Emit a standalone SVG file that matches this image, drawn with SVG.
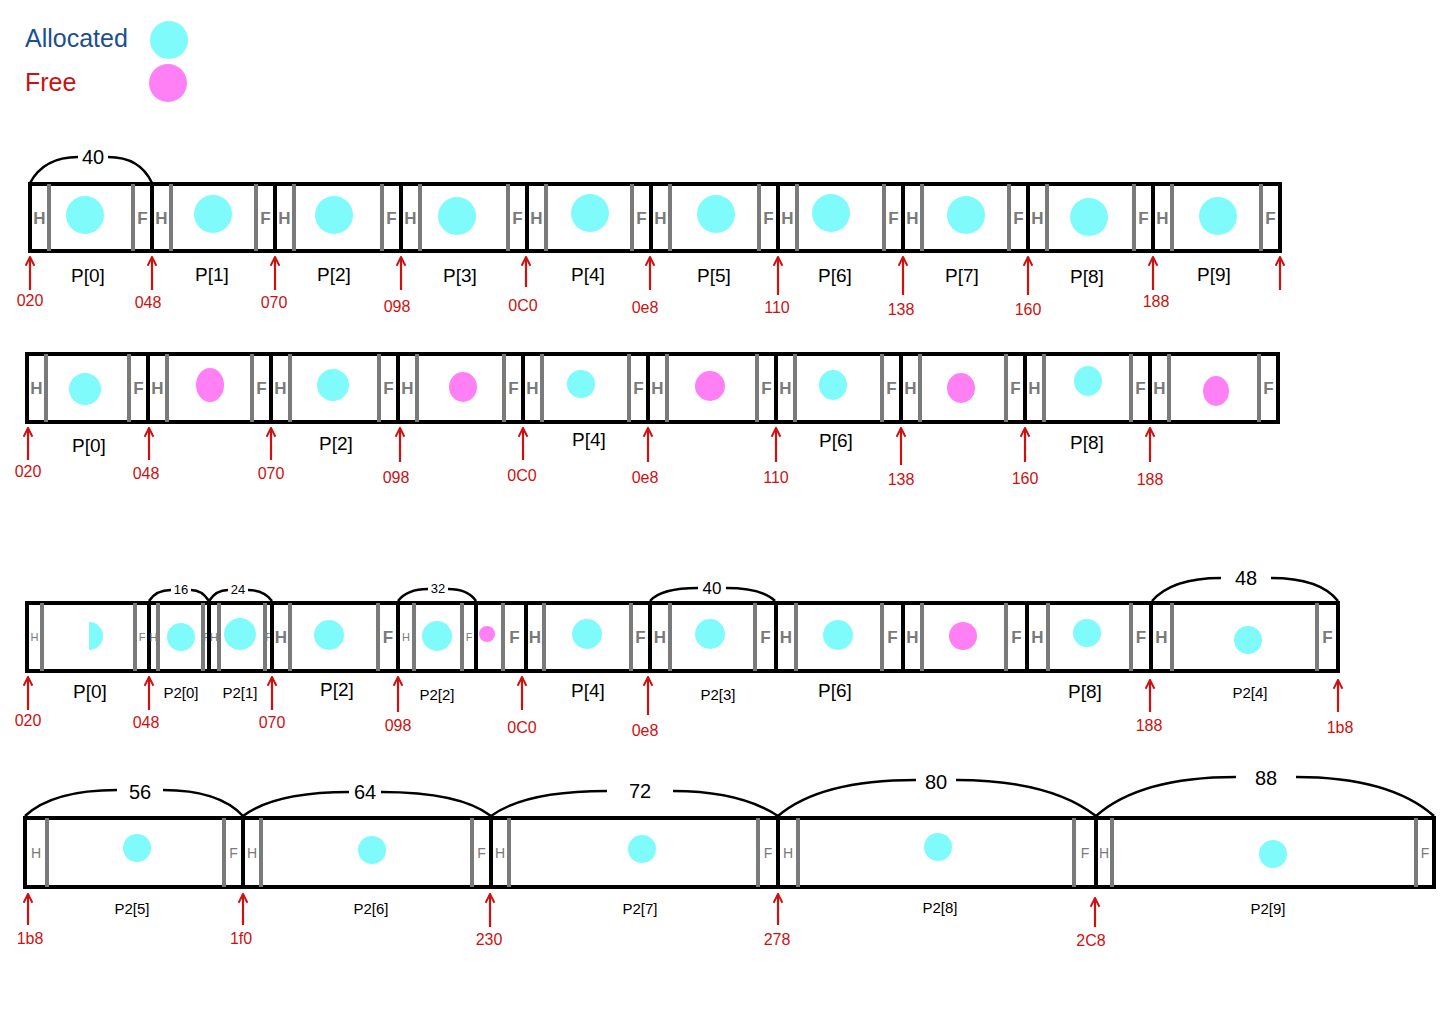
<svg xmlns="http://www.w3.org/2000/svg" width="1440" height="1018" viewBox="0 0 1440 1018">
<style>
.bg{fill:#fff}
.blk{fill:#fff;stroke:#000;stroke-width:4}
.g{stroke:#7a7a7a;stroke-width:4}
.hf{font-family:"Liberation Sans",Arial,sans-serif;font-size:17px;font-weight:bold;fill:#7a7a7a;text-anchor:middle}
.hfs{font-family:"Liberation Sans",Arial,sans-serif;font-size:11px;fill:#7a7a7a;text-anchor:middle}
.hfm{font-family:"Liberation Sans",Arial,sans-serif;font-size:14px;fill:#7a7a7a;text-anchor:middle}
.alloc{fill:#80fbfb}
.free{fill:#ff80f4}
.lbl{font-family:"Liberation Sans",Arial,sans-serif;font-size:19px;fill:#000;text-anchor:middle}
.lbs{font-family:"Liberation Sans",Arial,sans-serif;font-size:15px;fill:#000;text-anchor:middle}
.hex{font-family:"Liberation Sans",Arial,sans-serif;font-size:16px;fill:#cc1111;text-anchor:middle}
.arr{stroke:#cc1111;stroke-width:2.2;fill:none}
.brace{fill:none;stroke:#000;stroke-width:2.5}
.bt{font-family:"Liberation Sans",Arial,sans-serif;font-size:20px;fill:#000;text-anchor:middle}
.bts{font-family:"Liberation Sans",Arial,sans-serif;font-size:13px;fill:#000;text-anchor:middle}
.leg{font-family:"Liberation Sans",Arial,sans-serif;font-size:25px}
</style>
<defs>
<marker id="ah" viewBox="0 0 10 10" refX="9" refY="5" markerWidth="11" markerHeight="11" markerUnits="userSpaceOnUse" orient="auto">
<path d="M1,1 L9,5 L1,9" fill="none" stroke="#cc1111" stroke-width="1.8"/>
</marker>
</defs>
<rect class="bg" x="0" y="0" width="1440" height="1018"/>

<g id="legend">
<text class="leg" x="25" y="47" fill="#1b4f8f">Allocated</text>
<circle class="alloc" cx="169" cy="40" r="19"/>
<text class="leg" x="25" y="91" fill="#cc1111">Free</text>
<circle class="free" cx="168" cy="83" r="19"/>
</g>

<!-- Row 1 -->
<g id="row1">
<g id="r1-p0"><rect class="blk" x="30" y="184" width="122" height="67"/><line class="g" x1="49" y1="184" x2="49" y2="251"/><line class="g" x1="133" y1="184" x2="133" y2="251"/><text class="hf" x="39.5" y="224">H</text><text class="hf" x="142.5" y="224">F</text><circle class="alloc" cx="85" cy="215" r="19"/><text class="lbl" x="88" y="282">P[0]</text></g>
<g id="r1-p1"><rect class="blk" x="152" y="184" width="123" height="67"/><line class="g" x1="171" y1="184" x2="171" y2="251"/><line class="g" x1="256" y1="184" x2="256" y2="251"/><text class="hf" x="161.5" y="224">H</text><text class="hf" x="265.5" y="224">F</text><circle class="alloc" cx="213" cy="214" r="19"/><text class="lbl" x="212" y="281">P[1]</text></g>
<g id="r1-p2"><rect class="blk" x="275" y="184" width="126" height="67"/><line class="g" x1="294" y1="184" x2="294" y2="251"/><line class="g" x1="382" y1="184" x2="382" y2="251"/><text class="hf" x="284.5" y="224">H</text><text class="hf" x="391.5" y="224">F</text><circle class="alloc" cx="334" cy="215" r="19"/><text class="lbl" x="334" y="281">P[2]</text></g>
<g id="r1-p3"><rect class="blk" x="401" y="184" width="126" height="67"/><line class="g" x1="420" y1="184" x2="420" y2="251"/><line class="g" x1="508" y1="184" x2="508" y2="251"/><text class="hf" x="410.5" y="224">H</text><text class="hf" x="517.5" y="224">F</text><circle class="alloc" cx="457" cy="216" r="19"/><text class="lbl" x="460" y="282">P[3]</text></g>
<g id="r1-p4"><rect class="blk" x="527" y="184" width="124" height="67"/><line class="g" x1="546" y1="184" x2="546" y2="251"/><line class="g" x1="632" y1="184" x2="632" y2="251"/><text class="hf" x="536.5" y="224">H</text><text class="hf" x="641.5" y="224">F</text><circle class="alloc" cx="590" cy="213" r="19"/><text class="lbl" x="588" y="281">P[4]</text></g>
<g id="r1-p5"><rect class="blk" x="651" y="184" width="127" height="67"/><line class="g" x1="670" y1="184" x2="670" y2="251"/><line class="g" x1="759" y1="184" x2="759" y2="251"/><text class="hf" x="660.5" y="224">H</text><text class="hf" x="768.5" y="224">F</text><circle class="alloc" cx="716" cy="214" r="19"/><text class="lbl" x="714" y="282">P[5]</text></g>
<g id="r1-p6"><rect class="blk" x="778" y="184" width="125" height="67"/><line class="g" x1="797" y1="184" x2="797" y2="251"/><line class="g" x1="884" y1="184" x2="884" y2="251"/><text class="hf" x="787.5" y="224">H</text><text class="hf" x="893.5" y="224">F</text><circle class="alloc" cx="831" cy="213" r="19"/><text class="lbl" x="835" y="282">P[6]</text></g>
<g id="r1-p7"><rect class="blk" x="903" y="184" width="125" height="67"/><line class="g" x1="922" y1="184" x2="922" y2="251"/><line class="g" x1="1009" y1="184" x2="1009" y2="251"/><text class="hf" x="912.5" y="224">H</text><text class="hf" x="1018.5" y="224">F</text><circle class="alloc" cx="966" cy="215" r="19"/><text class="lbl" x="962" y="282">P[7]</text></g>
<g id="r1-p8"><rect class="blk" x="1028" y="184" width="125" height="67"/><line class="g" x1="1047" y1="184" x2="1047" y2="251"/><line class="g" x1="1134" y1="184" x2="1134" y2="251"/><text class="hf" x="1037.5" y="224">H</text><text class="hf" x="1143.5" y="224">F</text><circle class="alloc" cx="1089" cy="217" r="19"/><text class="lbl" x="1087" y="283">P[8]</text></g>
<g id="r1-p9"><rect class="blk" x="1153" y="184" width="127" height="67"/><line class="g" x1="1172" y1="184" x2="1172" y2="251"/><line class="g" x1="1261" y1="184" x2="1261" y2="251"/><text class="hf" x="1162.5" y="224">H</text><text class="hf" x="1270.5" y="224">F</text><circle class="alloc" cx="1218" cy="216" r="19"/><text class="lbl" x="1214" y="281">P[9]</text></g>
</g>

<!-- Row 2 -->
<g id="row2">
<g id="r2-p0"><rect class="blk" x="27" y="354" width="121" height="68"/><line class="g" x1="46" y1="354" x2="46" y2="422"/><line class="g" x1="129" y1="354" x2="129" y2="422"/><text class="hf" x="36.5" y="394">H</text><text class="hf" x="138.5" y="394">F</text><circle class="alloc" cx="85" cy="389" r="16"/><text class="lbl" x="89" y="452">P[0]</text></g>
<g id="r2-b1"><rect class="blk" x="148" y="354" width="123" height="68"/><line class="g" x1="167" y1="354" x2="167" y2="422"/><line class="g" x1="252" y1="354" x2="252" y2="422"/><text class="hf" x="157.5" y="394">H</text><text class="hf" x="261.5" y="394">F</text><ellipse class="free" cx="210" cy="385" rx="14" ry="17"/></g>
<g id="r2-p2"><rect class="blk" x="271" y="354" width="127" height="68"/><line class="g" x1="290" y1="354" x2="290" y2="422"/><line class="g" x1="379" y1="354" x2="379" y2="422"/><text class="hf" x="280.5" y="394">H</text><text class="hf" x="388.5" y="394">F</text><circle class="alloc" cx="333" cy="385" r="16"/><text class="lbl" x="336" y="450">P[2]</text></g>
<g id="r2-b3"><rect class="blk" x="398" y="354" width="125" height="68"/><line class="g" x1="417" y1="354" x2="417" y2="422"/><line class="g" x1="504" y1="354" x2="504" y2="422"/><text class="hf" x="407.5" y="394">H</text><text class="hf" x="513.5" y="394">F</text><ellipse class="free" cx="463" cy="387" rx="14" ry="15"/></g>
<g id="r2-p4"><rect class="blk" x="523" y="354" width="125" height="68"/><line class="g" x1="542" y1="354" x2="542" y2="422"/><line class="g" x1="629" y1="354" x2="629" y2="422"/><text class="hf" x="532.5" y="394">H</text><text class="hf" x="638.5" y="394">F</text><circle class="alloc" cx="581" cy="384" r="14"/><text class="lbl" x="589" y="446">P[4]</text></g>
<g id="r2-b5"><rect class="blk" x="648" y="354" width="128" height="68"/><line class="g" x1="667" y1="354" x2="667" y2="422"/><line class="g" x1="757" y1="354" x2="757" y2="422"/><text class="hf" x="657.5" y="394">H</text><text class="hf" x="766.5" y="394">F</text><ellipse class="free" cx="710" cy="386" rx="15" ry="15"/></g>
<g id="r2-p6"><rect class="blk" x="776" y="354" width="125" height="68"/><line class="g" x1="795" y1="354" x2="795" y2="422"/><line class="g" x1="882" y1="354" x2="882" y2="422"/><text class="hf" x="785.5" y="394">H</text><text class="hf" x="891.5" y="394">F</text><ellipse class="alloc" cx="833" cy="385" rx="14" ry="15"/><text class="lbl" x="836" y="447">P[6]</text></g>
<g id="r2-b7"><rect class="blk" x="901" y="354" width="124" height="68"/><line class="g" x1="920" y1="354" x2="920" y2="422"/><line class="g" x1="1006" y1="354" x2="1006" y2="422"/><text class="hf" x="910.5" y="394">H</text><text class="hf" x="1015.5" y="394">F</text><ellipse class="free" cx="961" cy="388" rx="14" ry="15"/></g>
<g id="r2-p8"><rect class="blk" x="1025" y="354" width="125" height="68"/><line class="g" x1="1044" y1="354" x2="1044" y2="422"/><line class="g" x1="1131" y1="354" x2="1131" y2="422"/><text class="hf" x="1034.5" y="394">H</text><text class="hf" x="1140.5" y="394">F</text><ellipse class="alloc" cx="1088" cy="381" rx="14" ry="15"/><text class="lbl" x="1087" y="449">P[8]</text></g>
<g id="r2-b9"><rect class="blk" x="1150" y="354" width="128" height="68"/><line class="g" x1="1169" y1="354" x2="1169" y2="422"/><line class="g" x1="1259" y1="354" x2="1259" y2="422"/><text class="hf" x="1159.5" y="394">H</text><text class="hf" x="1268.5" y="394">F</text><ellipse class="free" cx="1216" cy="391" rx="13" ry="15"/></g>
</g>

<!-- Row 3 -->
<g id="row3">
<g id="r3-p0"><rect class="blk" x="27" y="603" width="122" height="68"/><line class="g" x1="42" y1="603" x2="42" y2="671"/><line class="g" x1="135" y1="603" x2="135" y2="671"/><text class="hfs" x="34.5" y="641">H</text><text class="hfs" x="142" y="641">F</text><path class="alloc" d="M89,622 A14,14 0 0 1 89,650 Z"/><text class="lbl" x="90" y="698">P[0]</text></g>
<g id="r3-p2-0"><rect class="blk" x="149" y="603" width="60" height="68"/><line class="g" x1="158" y1="603" x2="158" y2="671"/><line class="g" x1="203" y1="603" x2="203" y2="671"/><text class="hfs" x="153.5" y="641">H</text><text class="hfs" x="206.5" y="641">F</text><circle class="alloc" cx="181" cy="637" r="14"/><text class="lbs" x="181" y="698">P2[0]</text></g>
<g id="r3-p2-1"><rect class="blk" x="209" y="603" width="63" height="68"/><line class="g" x1="219" y1="603" x2="219" y2="671"/><line class="g" x1="265" y1="603" x2="265" y2="671"/><text class="hfs" x="214" y="641">H</text><text class="hfs" x="268.5" y="641">F</text><circle class="alloc" cx="240" cy="634" r="16"/><text class="lbs" x="240" y="698">P2[1]</text></g>
<g id="r3-p2"><rect class="blk" x="272" y="603" width="126" height="68"/><line class="g" x1="290" y1="603" x2="290" y2="671"/><line class="g" x1="378" y1="603" x2="378" y2="671"/><text class="hf" x="281" y="643">H</text><text class="hf" x="388" y="643">F</text><circle class="alloc" cx="329" cy="635" r="15"/><text class="lbl" x="337" y="696">P[2]</text></g>
<g id="r3-p2-2"><rect class="blk" x="398" y="603" width="78" height="68"/><line class="g" x1="414" y1="603" x2="414" y2="671"/><line class="g" x1="462" y1="603" x2="462" y2="671"/><text class="hfs" x="406" y="641">H</text><text class="hfs" x="469" y="641">F</text><circle class="alloc" cx="437" cy="636" r="15"/><text class="lbs" x="437" y="700">P2[2]</text></g>
<g id="r3-rest"><rect class="blk" x="476" y="603" width="50" height="68"/><line class="g" x1="503" y1="603" x2="503" y2="671"/><text class="hf" x="514.5" y="643">F</text><circle class="free" cx="487" cy="634" r="8"/></g>
<g id="r3-p4"><rect class="blk" x="526" y="603" width="124" height="68"/><line class="g" x1="544" y1="603" x2="544" y2="671"/><line class="g" x1="631" y1="603" x2="631" y2="671"/><text class="hf" x="535" y="643">H</text><text class="hf" x="640.5" y="643">F</text><circle class="alloc" cx="587" cy="634" r="15"/><text class="lbl" x="588" y="697">P[4]</text></g>
<g id="r3-p2-3"><rect class="blk" x="650" y="603" width="126" height="68"/><line class="g" x1="670" y1="603" x2="670" y2="671"/><line class="g" x1="755" y1="603" x2="755" y2="671"/><text class="hf" x="660" y="643">H</text><text class="hf" x="765.5" y="643">F</text><circle class="alloc" cx="710" cy="634" r="15"/><text class="lbs" x="718" y="700">P2[3]</text></g>
<g id="r3-p6"><rect class="blk" x="776" y="603" width="127" height="68"/><line class="g" x1="796" y1="603" x2="796" y2="671"/><line class="g" x1="882" y1="603" x2="882" y2="671"/><text class="hf" x="786" y="643">H</text><text class="hf" x="892.5" y="643">F</text><circle class="alloc" cx="838" cy="635" r="15"/><text class="lbl" x="835" y="697">P[6]</text></g>
<g id="r3-b9"><rect class="blk" x="903" y="603" width="124" height="68"/><line class="g" x1="922" y1="603" x2="922" y2="671"/><line class="g" x1="1006" y1="603" x2="1006" y2="671"/><text class="hf" x="912.5" y="643">H</text><text class="hf" x="1016.5" y="643">F</text><circle class="free" cx="963" cy="636" r="14"/></g>
<g id="r3-p8"><rect class="blk" x="1027" y="603" width="124" height="68"/><line class="g" x1="1048" y1="603" x2="1048" y2="671"/><line class="g" x1="1131" y1="603" x2="1131" y2="671"/><text class="hf" x="1037.5" y="643">H</text><text class="hf" x="1141" y="643">F</text><circle class="alloc" cx="1087" cy="633" r="14"/><text class="lbl" x="1085" y="698">P[8]</text></g>
<g id="r3-p2-4"><rect class="blk" x="1151" y="603" width="187" height="68"/><line class="g" x1="1172" y1="603" x2="1172" y2="671"/><line class="g" x1="1317" y1="603" x2="1317" y2="671"/><text class="hf" x="1161.5" y="643">H</text><text class="hf" x="1327.5" y="643">F</text><circle class="alloc" cx="1248" cy="640" r="14"/><text class="lbs" x="1250" y="698">P2[4]</text></g>
</g>

<!-- Row 4 -->
<g id="row4">
<g id="r4-p2-5"><rect class="blk" x="25" y="818" width="218" height="69"/><line class="g" x1="47" y1="818" x2="47" y2="887"/><line class="g" x1="224" y1="818" x2="224" y2="887"/><text class="hfm" x="36" y="858">H</text><text class="hfm" x="233.5" y="858">F</text><circle class="alloc" cx="137" cy="848" r="14"/><text class="lbs" x="132" y="914">P2[5]</text></g>
<g id="r4-p2-6"><rect class="blk" x="243" y="818" width="248" height="69"/><line class="g" x1="261" y1="818" x2="261" y2="887"/><line class="g" x1="472" y1="818" x2="472" y2="887"/><text class="hfm" x="252" y="858">H</text><text class="hfm" x="481.5" y="858">F</text><circle class="alloc" cx="372" cy="850" r="14"/><text class="lbs" x="371" y="914">P2[6]</text></g>
<g id="r4-p2-7"><rect class="blk" x="491" y="818" width="287" height="69"/><line class="g" x1="509" y1="818" x2="509" y2="887"/><line class="g" x1="758" y1="818" x2="758" y2="887"/><text class="hfm" x="500" y="858">H</text><text class="hfm" x="768" y="858">F</text><circle class="alloc" cx="642" cy="849" r="14"/><text class="lbs" x="640" y="914">P2[7]</text></g>
<g id="r4-p2-8"><rect class="blk" x="778" y="818" width="318" height="69"/><line class="g" x1="798" y1="818" x2="798" y2="887"/><line class="g" x1="1074" y1="818" x2="1074" y2="887"/><text class="hfm" x="788" y="858">H</text><text class="hfm" x="1085" y="858">F</text><circle class="alloc" cx="938" cy="847" r="14"/><text class="lbs" x="940" y="913">P2[8]</text></g>
<g id="r4-p2-9"><rect class="blk" x="1096" y="818" width="338" height="69"/><line class="g" x1="1112" y1="818" x2="1112" y2="887"/><line class="g" x1="1416" y1="818" x2="1416" y2="887"/><text class="hfm" x="1104" y="858">H</text><text class="hfm" x="1425" y="858">F</text><circle class="alloc" cx="1273" cy="854" r="14"/><text class="lbs" x="1268" y="914">P2[9]</text></g>
</g>

<g id="connectors">
<path class="brace" d="M30,183 Q44,157 78,157 M108,157 Q140,157 152,183"/>
<text class="bt" x="93" y="164">40</text>
<path class="brace" d="M149,601 Q156,590 171,590 M191,590 Q202,590 209,601"/>
<text class="bts" x="181" y="594">16</text>
<path class="brace" d="M209,601 Q216,590 228,590 M248,590 Q264,590 272,601"/>
<text class="bts" x="238" y="594">24</text>
<path class="brace" d="M398,601 Q407,589 428,589 M448,589 Q468,589 476,601"/>
<text class="bts" x="438" y="593">32</text>
<path class="brace" d="M650,601 Q661,588 698,588 M726,588 Q762,588 775,601"/>
<text class="bt" x="712" y="594" style="font-size:17px">40</text>
<path class="brace" d="M1152,601 Q1172,578 1221,578 M1271,578 Q1320,578 1338,601"/>
<text class="bt" x="1246" y="585">48</text>
<path class="brace" d="M25,816 Q53,790 117,790 M163,790 Q219,790 243,816"/>
<text class="bt" x="140" y="799">56</text>
<path class="brace" d="M243,816 Q275,792 349,792 M381,792 Q460,792 491,816"/>
<text class="bt" x="365" y="799">64</text>
<path class="brace" d="M491,816 Q525,791 607,791 M673,791 Q740,791 778,816"/>
<text class="bt" x="640" y="798">72</text>
<path class="brace" d="M778,816 Q820,780 916,780 M956,780 Q1050,780 1096,816"/>
<text class="bt" x="936" y="789">80</text>
<path class="brace" d="M1096,816 Q1140,777 1236,777 M1296,777 Q1390,777 1434,816"/>
<text class="bt" x="1266" y="785">88</text>

<path class="arr" marker-end="url(#ah)" d="M30,290 V257"/>
<path class="arr" marker-end="url(#ah)" d="M152,290 V257"/>
<path class="arr" marker-end="url(#ah)" d="M275,290 V257"/>
<path class="arr" marker-end="url(#ah)" d="M401,290 V257"/>
<path class="arr" marker-end="url(#ah)" d="M526,287 V257"/>
<path class="arr" marker-end="url(#ah)" d="M650,290 V257"/>
<path class="arr" marker-end="url(#ah)" d="M778,295 V257"/>
<path class="arr" marker-end="url(#ah)" d="M903,295 V257"/>
<path class="arr" marker-end="url(#ah)" d="M1028,295 V257"/>
<path class="arr" marker-end="url(#ah)" d="M1153,290 V257"/>
<path class="arr" marker-end="url(#ah)" d="M1280,290 V257"/>

<path class="arr" marker-end="url(#ah)" d="M28,460 V428"/>
<path class="arr" marker-end="url(#ah)" d="M149,460 V428"/>
<path class="arr" marker-end="url(#ah)" d="M271,460 V428"/>
<path class="arr" marker-end="url(#ah)" d="M400,462 V428"/>
<path class="arr" marker-end="url(#ah)" d="M523,460 V428"/>
<path class="arr" marker-end="url(#ah)" d="M648,462 V428"/>
<path class="arr" marker-end="url(#ah)" d="M776,462 V428"/>
<path class="arr" marker-end="url(#ah)" d="M901,465 V428"/>
<path class="arr" marker-end="url(#ah)" d="M1025,462 V428"/>
<path class="arr" marker-end="url(#ah)" d="M1150,462 V428"/>

<path class="arr" marker-end="url(#ah)" d="M28,710 V677"/>
<path class="arr" marker-end="url(#ah)" d="M149,710 V677"/>
<path class="arr" marker-end="url(#ah)" d="M272,710 V677"/>
<path class="arr" marker-end="url(#ah)" d="M398,712 V677"/>
<path class="arr" marker-end="url(#ah)" d="M522,710 V677"/>
<path class="arr" marker-end="url(#ah)" d="M648,715 V677"/>
<path class="arr" marker-end="url(#ah)" d="M1150,712 V680"/>
<path class="arr" marker-end="url(#ah)" d="M1338,712 V680"/>

<path class="arr" marker-end="url(#ah)" d="M28,925 V894"/>
<path class="arr" marker-end="url(#ah)" d="M243,925 V894"/>
<path class="arr" marker-end="url(#ah)" d="M490,927 V894"/>
<path class="arr" marker-end="url(#ah)" d="M778,925 V894"/>
<path class="arr" marker-end="url(#ah)" d="M1095,927 V898"/>
</g>

<g id="addresses">
<text class="hex" x="30" y="306">020</text>
<text class="hex" x="148" y="308">048</text>
<text class="hex" x="274" y="308">070</text>
<text class="hex" x="397" y="312">098</text>
<text class="hex" x="523" y="311">0C0</text>
<text class="hex" x="645" y="313">0e8</text>
<text class="hex" x="777" y="313">110</text>
<text class="hex" x="901" y="315">138</text>
<text class="hex" x="1028" y="315">160</text>
<text class="hex" x="1156" y="307">188</text>

<text class="hex" x="28" y="477">020</text>
<text class="hex" x="146" y="479">048</text>
<text class="hex" x="271" y="479">070</text>
<text class="hex" x="396" y="483">098</text>
<text class="hex" x="522" y="481">0C0</text>
<text class="hex" x="645" y="483">0e8</text>
<text class="hex" x="776" y="483">110</text>
<text class="hex" x="901" y="485">138</text>
<text class="hex" x="1025" y="484">160</text>
<text class="hex" x="1150" y="485">188</text>

<text class="hex" x="28" y="726">020</text>
<text class="hex" x="146" y="728">048</text>
<text class="hex" x="272" y="728">070</text>
<text class="hex" x="398" y="731">098</text>
<text class="hex" x="522" y="733">0C0</text>
<text class="hex" x="645" y="736">0e8</text>
<text class="hex" x="1149" y="731">188</text>
<text class="hex" x="1340" y="733">1b8</text>

<text class="hex" x="30" y="944">1b8</text>
<text class="hex" x="241" y="944">1f0</text>
<text class="hex" x="489" y="945">230</text>
<text class="hex" x="777" y="945">278</text>
<text class="hex" x="1091" y="946">2C8</text>
</g>
</svg>
